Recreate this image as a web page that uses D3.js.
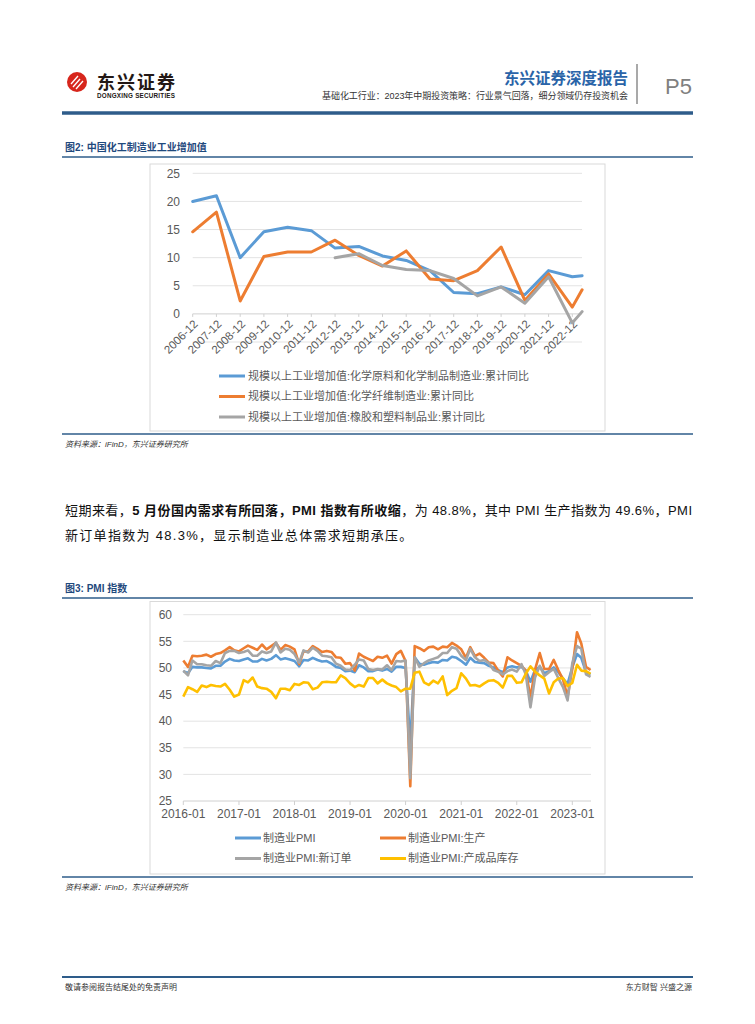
<!DOCTYPE html>
<html>
<head>
<meta charset="utf-8">
<script src="https://cdn.jsdelivr.net/npm/d3@7"></script>
<style>
body { margin: 0; background: #fff; }
text { font-family: "Liberation Sans", "Noto Sans CJK SC", sans-serif; }
</style>
</head>
<body>
<script>
// chart 2 (图2) - yearly values, last point is 2023-05
var ivDates = ["2006-12","2007-12","2008-12","2009-12","2010-12","2011-12","2012-12","2013-12","2014-12",
               "2015-12","2016-12","2017-12","2018-12","2019-12","2020-12","2021-12","2022-12","2023-05"];
var ivTicks = ivDates.slice(0, 17);
var chemRaw   = [20.0, 21.0, 10.0, 14.6, 15.4, 14.8, 11.7, 12.0, 10.3, 9.5, 7.7, 3.8, 3.6, 4.8, 3.4, 7.7, 6.6, 6.8];
var chemFiber = [14.6, 18.1, 2.3, 10.2, 11.0, 11.0, 13.1, 10.4, 8.5, 11.2, 6.2, 5.9, 7.7, 11.9, 2.4, 7.1, 1.2, 4.3];
var rubber    = [null, null, null, null, null, null, 10.0, 10.7, 8.6, 7.9, 7.7, 6.3, 3.2, 4.8, 1.9, 6.6, -1.6, 0.4];
var ivNames = ["规模以上工业增加值:化学原料和化学制品制造业:累计同比",
               "规模以上工业增加值:化学纤维制造业:累计同比",
               "规模以上工业增加值:橡胶和塑料制品业:累计同比"];
var ivYTicks = [0, 5, 10, 15, 20, 25];

// chart 3 (图3) - monthly PMI 2016-01 .. 2023-05
var pmiTicks = ["2016-01","2017-01","2018-01","2019-01","2020-01","2021-01","2022-01","2023-01"];
var pmi = [].concat(
  [49.4, 49.0, 50.2, 50.1, 50.1, 50.0, 49.9, 50.4, 50.4, 51.2, 51.7, 51.4],
  [51.3, 51.6, 51.8, 51.2, 51.2, 51.7, 51.4, 51.7, 52.4, 51.6, 51.8, 51.6],
  [51.3, 50.3, 51.5, 51.4, 51.9, 51.5, 51.2, 51.3, 50.8, 50.2, 50.0, 49.4],
  [49.5, 49.2, 50.5, 50.1, 49.4, 49.4, 49.7, 49.5, 49.8, 49.3, 50.2, 50.2],
  [50.0, 35.7, 52.0, 50.8, 50.6, 50.9, 51.1, 51.0, 51.5, 51.4, 52.1, 51.9],
  [51.3, 50.6, 51.9, 51.1, 51.0, 50.9, 50.4, 50.1, 49.6, 49.2, 50.1, 50.3],
  [50.1, 50.2, 49.5, 47.4, 49.6, 50.2, 49.0, 49.4, 50.1, 49.2, 48.0, 47.0],
  [50.1, 52.6, 51.9, 49.2, 48.8]);
var pmiProd = [].concat(
  [51.4, 50.2, 52.3, 52.2, 52.3, 52.5, 52.1, 52.6, 52.8, 53.3, 53.9, 53.3],
  [53.1, 53.7, 54.2, 53.8, 53.4, 54.4, 53.5, 54.1, 54.7, 53.4, 54.3, 54.0],
  [53.5, 50.7, 53.1, 53.1, 54.1, 53.6, 53.0, 53.2, 53.0, 52.0, 51.9, 50.8],
  [50.9, 49.5, 52.7, 52.1, 51.7, 51.3, 52.1, 51.9, 52.3, 50.8, 52.6, 53.2],
  [51.3, 27.8, 54.1, 53.7, 53.2, 53.9, 54.0, 53.5, 54.0, 53.9, 54.7, 54.2],
  [53.5, 51.9, 53.9, 52.2, 52.7, 51.9, 51.0, 50.9, 49.5, 48.4, 52.0, 51.4],
  [50.9, 50.4, 49.5, 44.4, 49.7, 52.8, 49.8, 49.8, 51.5, 49.6, 47.8, 44.6],
  [49.8, 56.7, 54.6, 50.2, 49.6]);
var pmiOrders = [].concat(
  [49.5, 48.6, 51.4, 50.7, 50.7, 50.5, 50.4, 51.3, 50.9, 52.8, 53.2, 53.2],
  [52.8, 53.0, 53.3, 52.3, 52.3, 53.1, 52.8, 53.1, 54.8, 52.9, 53.6, 53.4],
  [52.6, 51.0, 53.3, 52.9, 53.8, 53.2, 52.3, 52.2, 52.0, 50.8, 50.4, 49.7],
  [49.6, 50.6, 51.6, 51.4, 49.8, 49.6, 49.8, 49.7, 50.5, 49.6, 51.3, 51.2],
  [51.4, 29.3, 52.0, 50.2, 50.9, 51.4, 51.7, 52.0, 52.8, 52.8, 53.9, 53.6],
  [52.3, 51.5, 53.6, 52.0, 51.3, 51.5, 50.9, 49.6, 49.3, 48.8, 49.4, 49.7],
  [49.3, 50.7, 48.8, 42.6, 48.2, 50.4, 48.5, 49.2, 49.8, 48.1, 46.4, 43.9],
  [50.9, 54.1, 53.6, 48.8, 48.3]);
var pmiStock = [].concat(
  [44.6, 46.4, 46.0, 45.5, 46.7, 46.4, 46.8, 46.6, 46.5, 47.0, 45.9, 44.6],
  [45.0, 47.7, 47.3, 48.2, 46.5, 46.2, 46.1, 45.5, 44.3, 46.1, 46.1, 45.8],
  [47.0, 46.8, 47.3, 47.2, 46.0, 46.3, 47.3, 47.4, 47.3, 47.3, 48.6, 48.1],
  [47.1, 46.4, 46.8, 46.5, 48.1, 48.1, 47.1, 47.8, 47.1, 46.7, 46.4, 45.6],
  [46.1, 46.1, 49.1, 49.3, 47.3, 46.8, 47.6, 47.1, 48.4, 44.9, 45.7, 46.2],
  [49.0, 48.0, 46.7, 46.8, 46.5, 47.1, 47.6, 47.7, 47.2, 46.3, 48.5, 48.5],
  [47.2, 47.3, 48.9, 50.3, 49.3, 48.6, 48.0, 45.2, 47.3, 48.0, 48.1, 46.6],
  [47.2, 50.6, 49.5, 49.4, 48.9]);
var pmiNames = ["制造业PMI", "制造业PMI:生产", "制造业PMI:新订单", "制造业PMI:产成品库存"];
var pmiYTicks = [25, 30, 35, 40, 45, 50, 55, 60];

var colors = ["#5b9bd5", "#ed7d31", "#a5a5a5", "#ffc000"];
var navy = "#2e5c8a";
var parse = d3.timeParse("%Y-%m");

var svg = d3.select("body").append("svg").attr("width", 755).attr("height", 1024);

// ---------- header ----------
var logo = svg.append("g");
logo.append("circle").attr("cx", 77).attr("cy", 82).attr("r", 10).attr("fill", "#d7261c");
[[-6, 2, 1, -6], [-4, 5, 3, -3], [-1, 7, 6, -1]].forEach(function(s) {
  logo.append("line").attr("x1", 77 + s[0]).attr("y1", 82 + s[1]).attr("x2", 77 + s[2]).attr("y2", 82 + s[3])
    .attr("stroke", "#fff").attr("stroke-width", 1.3);
});
logo.append("text").attr("x", 97).attr("y", 89).attr("font-size", 18).attr("font-weight", "bold")
  .attr("fill", "#231815").attr("textLength", 78).text("东兴证券");
logo.append("text").attr("x", 97).attr("y", 98).attr("font-size", 6.3).attr("font-weight", "bold")
  .attr("fill", "#231815").attr("textLength", 78).text("DONGXING SECURITIES");

svg.append("text").attr("x", 628).attr("y", 84).attr("text-anchor", "end").attr("font-size", 15.5)
  .attr("font-weight", "bold").attr("fill", "#2a64a8").text("东兴证券深度报告");
svg.append("text").attr("x", 628).attr("y", 99).attr("text-anchor", "end").attr("font-size", 9)
  .attr("fill", "#333").attr("textLength", 306).attr("lengthAdjust", "spacing")
  .text("基础化工行业：2023年中期投资策略：行业景气回落，细分领域仍存投资机会");
svg.append("line").attr("x1", 637).attr("x2", 637).attr("y1", 64).attr("y2", 104)
  .attr("stroke", "#8c8c8c").attr("stroke-width", 1.5);
svg.append("text").attr("x", 665).attr("y", 94).attr("font-size", 22).attr("fill", "#808080").text("P5");
svg.append("line").attr("x1", 62).attr("x2", 693).attr("y1", 113).attr("y2", 113)
  .attr("stroke", navy).attr("stroke-width", 3.5);

function rule(y, w) {
  svg.append("line").attr("x1", 62).attr("x2", 693).attr("y1", y).attr("y2", y)
    .attr("stroke", navy).attr("stroke-width", w || 1.5);
}
function figTitle(y, t) {
  svg.append("text").attr("x", 65).attr("y", y).attr("font-size", 10).attr("font-weight", "bold")
    .attr("fill", "#1f497d").text(t);
}
function source(y) {
  svg.append("text").attr("x", 65).attr("y", y).attr("font-size", 8).attr("font-style", "italic")
    .attr("fill", "#333").text("资料来源：iFinD，东兴证券研究所");
}

// ---------- 图2 ----------
figTitle(151, "图2: 中国化工制造业工业增加值");
rule(157);
svg.append("rect").attr("x", 150).attr("y", 164).attr("width", 455).attr("height", 267)
  .attr("fill", "none").attr("stroke", "#d9d9d9");

var x1 = d3.scaleTime().domain([parse("2006-12"), parse("2022-12")]).range([192.7, 572.3]);
var y1 = d3.scaleLinear().domain([-5, 25]).range([342, 173.3]);
var g1 = svg.append("g");

g1.selectAll(".grid").data([-5].concat(ivYTicks.slice(1))).enter().append("line")
  .attr("x1", 192.7).attr("x2", 582).attr("y1", function(d) { return y1(d); }).attr("y2", function(d) { return y1(d); })
  .attr("stroke", "#e3e3e3").attr("stroke-width", 1);
g1.append("line").attr("x1", 192.7).attr("x2", 582).attr("y1", y1(0)).attr("y2", y1(0))
  .attr("stroke", "#d0d0d0").attr("stroke-width", 1);
g1.selectAll(".yl").data(ivYTicks).enter().append("text")
  .attr("x", 180).attr("y", function(d) { return y1(d); }).attr("dy", "0.35em")
  .attr("text-anchor", "end").attr("font-size", 12).attr("fill", "#595959").text(function(d) { return d; });
g1.selectAll(".tk").data(ivTicks).enter().append("line")
  .attr("x1", function(d) { return x1(parse(d)); }).attr("x2", function(d) { return x1(parse(d)); })
  .attr("y1", y1(0)).attr("y2", y1(0) + 3).attr("stroke", "#d0d0d0");
g1.selectAll(".xl").data(ivTicks).enter().append("text")
  .attr("transform", function(d) { return "translate(" + (x1(parse(d)) + 3) + "," + (y1(0) + 8) + ") rotate(-45)"; })
  .attr("text-anchor", "end").attr("dy", "0.35em").attr("font-size", 11.5).attr("fill", "#595959")
  .text(function(d) { return d; });

[chemRaw, chemFiber, rubber].forEach(function(s, i) {
  var line = d3.line().defined(function(d) { return d != null; })
    .x(function(d, j) { return x1(parse(ivDates[j])); }).y(function(d) { return y1(d); });
  g1.append("path").datum(s).attr("d", line).attr("fill", "none").attr("stroke", colors[i])
    .attr("stroke-width", 3).attr("stroke-linejoin", "round").attr("stroke-linecap", "round");
});

ivNames.forEach(function(n, i) {
  var y = 376 + i * 20.5;
  g1.append("line").attr("x1", 219).attr("x2", 245).attr("y1", y).attr("y2", y)
    .attr("stroke", colors[i]).attr("stroke-width", 3);
  g1.append("text").attr("x", 248).attr("y", y).attr("dy", "0.35em").attr("font-size", 11)
    .attr("fill", "#595959").text(n);
});
rule(434);
source(447);

// ---------- text ----------
var p1 = svg.append("text").attr("x", 65).attr("y", 515).attr("font-size", 13).attr("fill", "#111")
  .attr("textLength", 627).attr("lengthAdjust", "spacing");
p1.append("tspan").text("短期来看，");
p1.append("tspan").attr("font-weight", "bold").text("5 月份国内需求有所回落，PMI 指数有所收缩");
p1.append("tspan").text("，为 48.8%，其中 PMI 生产指数为 49.6%，PMI");
svg.append("text").attr("x", 65).attr("y", 540).attr("font-size", 13).attr("fill", "#111")
  .attr("letter-spacing", 1.3).text("新订单指数为 48.3%，显示制造业总体需求短期承压。");

// ---------- 图3 ----------
figTitle(592, "图3: PMI 指数");
rule(598);
svg.append("rect").attr("x", 150).attr("y", 601.5).attr("width", 455).attr("height", 272.5)
  .attr("fill", "none").attr("stroke", "#d9d9d9");

var months = d3.timeMonth.range(parse("2016-01"), parse("2023-06"));
var x2 = d3.scaleTime().domain([parse("2016-01"), parse("2023-01")]).range([183.3, 572.3]);
var y2 = d3.scaleLinear().domain([25, 60]).range([801, 614.7]);
var g2 = svg.append("g");

g2.selectAll(".grid").data(pmiYTicks.slice(1)).enter().append("line")
  .attr("x1", 183.3).attr("x2", 591).attr("y1", function(d) { return y2(d); }).attr("y2", function(d) { return y2(d); })
  .attr("stroke", "#e3e3e3");
g2.append("line").attr("x1", 183.3).attr("x2", 591).attr("y1", y2(25)).attr("y2", y2(25)).attr("stroke", "#d0d0d0");
g2.selectAll(".yl").data(pmiYTicks).enter().append("text")
  .attr("x", 172).attr("y", function(d) { return y2(d); }).attr("dy", "0.35em")
  .attr("text-anchor", "end").attr("font-size", 12).attr("fill", "#595959").text(function(d) { return d; });
g2.selectAll(".tk").data(pmiTicks).enter().append("line")
  .attr("x1", function(d) { return x2(parse(d)); }).attr("x2", function(d) { return x2(parse(d)); })
  .attr("y1", y2(25)).attr("y2", y2(25) + 4).attr("stroke", "#d0d0d0");
g2.selectAll(".xl").data(pmiTicks).enter().append("text")
  .attr("x", function(d) { return x2(parse(d)); }).attr("y", 818).attr("text-anchor", "middle")
  .attr("font-size", 12).attr("fill", "#595959").text(function(d) { return d; });

[pmi, pmiProd, pmiOrders, pmiStock].forEach(function(s, i) {
  var line = d3.line().x(function(d, j) { return x2(months[j]); }).y(function(d) { return y2(d); });
  g2.append("path").datum(s).attr("d", line).attr("fill", "none").attr("stroke", colors[i])
    .attr("stroke-width", 2.6).attr("stroke-linejoin", "round");
});

pmiNames.forEach(function(n, i) {
  var y = 838 + Math.floor(i / 2) * 20.5;
  var x = i % 2 ? 380 : 235;
  g2.append("line").attr("x1", x).attr("x2", x + 26).attr("y1", y).attr("y2", y)
    .attr("stroke", colors[i]).attr("stroke-width", 3);
  g2.append("text").attr("x", x + 28).attr("y", y).attr("dy", "0.35em").attr("font-size", 11)
    .attr("fill", "#595959").text(n);
});
rule(877);
source(890);

// ---------- footer ----------
rule(977, 2);
svg.append("text").attr("x", 65).attr("y", 990).attr("font-size", 8).attr("fill", "#333")
  .text("敬请参阅报告结尾处的免责声明");
svg.append("text").attr("x", 692).attr("y", 990).attr("text-anchor", "end").attr("font-size", 8)
  .attr("fill", "#333").text("东方财智 兴盛之源");
</script>
</body>
</html>
